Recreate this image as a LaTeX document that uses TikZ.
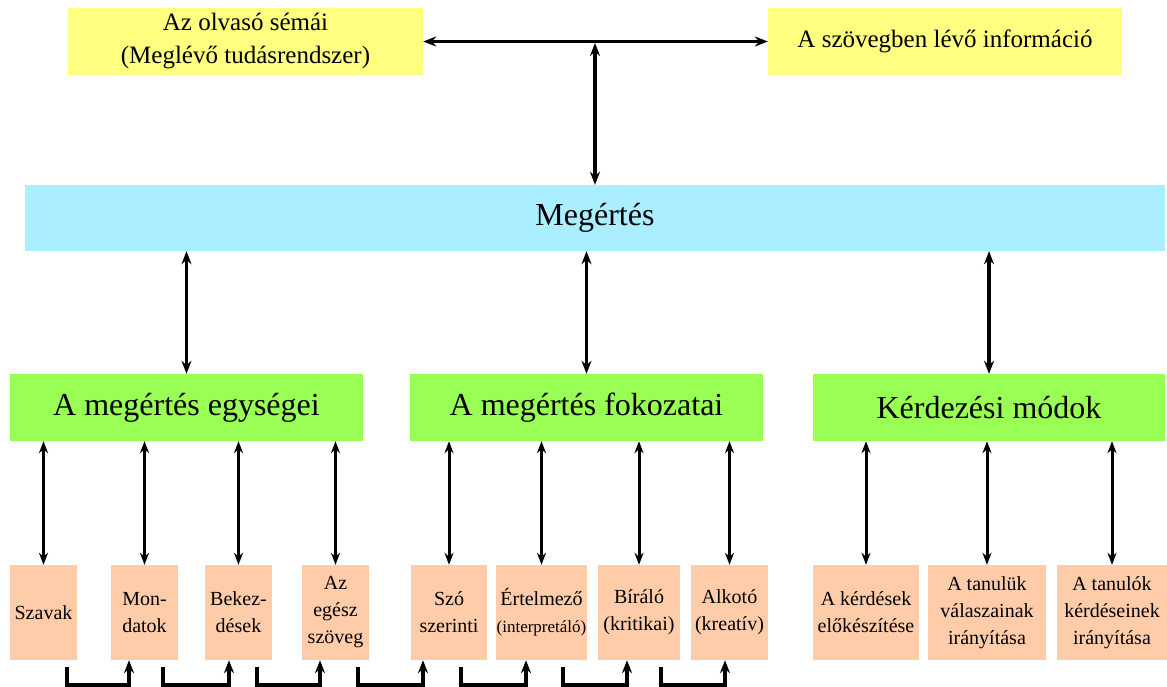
\documentclass[tikz,border=0pt]{standalone}
\usepackage{fontspec}
\setmainfont{Liberation Serif}
\usepackage{tikz}
\usetikzlibrary{arrows.meta,calc}
\definecolor{schemayellow}{RGB}{255,255,128}
\definecolor{megblue}{RGB}{170,238,255}
\definecolor{levelgreen}{RGB}{153,255,85}
\definecolor{itempeach}{RGB}{255,204,170}
\tikzset{
  topbox/.style={fill=schemayellow, inner sep=0pt, align=center,
    minimum width=355pt, minimum height=67pt, font=\fontsize{25}{33}\selectfont},
  levelbox/.style={fill=levelgreen, inner sep=0pt, align=center,
    minimum width=353pt, minimum height=67pt, font=\fontsize{32}{38}\selectfont},
  itembox/.style={fill=itempeach, inner sep=0pt, align=center,
    minimum height=95pt, font=\fontsize{20}{27}\selectfont},
  biarrow/.style={{Stealth[length=13pt,width=10pt]}-{Stealth[length=13pt,width=10pt]}, line width=3.8pt},
  thinarrow/.style={{Stealth[length=12pt,width=9pt]}-{Stealth[length=12pt,width=9pt]}, line width=3pt},
  steplink/.style={-{Stealth[length=13pt,width=10pt]}, line width=3.8pt}
}

\begin{document}
\begin{tikzpicture}[x=1pt, y=-1pt]
    \useasboundingbox (0,0) rectangle (1167,687);

    % Felső sor
    \node[topbox] (schema) at (245.5,41.5) {Az olvasó sémái\\(Meglévő tudásrendszer)};
    \node[topbox, minimum width=354pt] (info) at (945,41.5) {A szövegben lévő információ};

    \node[fill=megblue, minimum width=1140pt, minimum height=66pt, inner sep=0pt,
      font=\fontsize{32}{38}\selectfont] (meg) at (595,218) {Megértés};

    % Szintek
    \node[levelbox] (egys) at (186.5,407.5) {A megértés egységei};
    \node[levelbox] (fok) at (586.5,407.5) {A megértés fokozatai};
    \node[levelbox, minimum width=352pt] (mod) at (989,407.5) {Kérdezési módok};

    % Elemek
    \node[itembox, minimum width=67pt] (szavak) at (43.5,612.5) {Szavak};
    \node[itembox, minimum width=67pt] (mondat) at (144.5,612.5) {Mon-\\datok};
    \node[itembox, minimum width=67pt] (bekezd) at (238.5,612.5) {Bekez-\\dések};
    \node[itembox, minimum width=67pt] (szoveg) at (335.5,612.5) {Az\\egész\\szöveg};
    \node[itembox, minimum width=76pt] (szoszer) at (449,612.5) {Szó\\szerinti};
    \node[itembox, minimum width=91pt] (ertel) at (541.5,612.5) {Értelmező\\{\fontsize{17}{21}\selectfont(interpretáló)}};
    \node[itembox, minimum width=82pt] (biralo) at (639,612.5) {Bíráló\\(kritikai)};
    \node[itembox, minimum width=77pt] (alkoto) at (729.5,612.5) {Alkotó\\(kreatív)};
    \node[itembox, minimum width=106pt] (kelok) at (866,612.5) {A kérdések\\előkészítése};
    \node[itembox, minimum width=118pt] (valasz) at (987,612.5) {A tanulük\\válaszainak\\irányítása};
    \node[itembox, minimum width=110pt] (kerdes) at (1112,612.5) {A tanulók\\kérdéseinek\\irányítása};

    % Nyilak
    \coordinate (tee) at (meg.north |- schema.east);
    \draw[biarrow] (schema.east) -- (info.west);
    \draw[biarrow] ([yshift=-1.5pt]tee) -- (meg.north);

    \foreach \lvl in {egys,fok,mod}
      \draw[biarrow] (\lvl.north |- meg.south) -- (\lvl.north);

    \foreach \lvl/\item in {egys/szavak,egys/mondat,egys/bekezd,egys/szoveg,
        fok/szoszer,fok/ertel,fok/biralo,fok/alkoto,
        mod/kelok,mod/valasz,mod/kerdes}
      \draw[thinarrow] (\item.north |- \lvl.south) -- (\item.north);

    % Lépcsők alul
    \foreach \a/\b/\xa/\xb in {szavak/mondat/67/129, mondat/bekezd/163/229,
        bekezd/szoveg/257/320, szoveg/szoszer/358/423, szoszer/ertel/461/526,
        ertel/biralo/563/627, biralo/alkoto/661/725}
      \draw[steplink] (\a.south -| \xa,0) ++(0,7) |- (\xb,685) -- (\b.south -| \xb,0);
\end{tikzpicture}
\end{document}
